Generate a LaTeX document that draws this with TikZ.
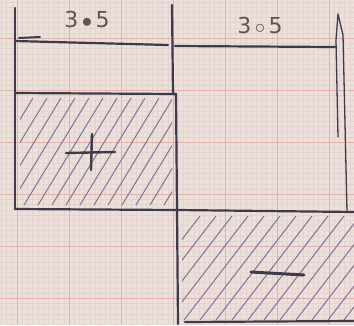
\documentclass[tikz,border=0pt]{standalone}
\usepackage{fontspec}
\setsansfont{DejaVu Sans}
\definecolor{paper}{HTML}{EBE0DC}
\definecolor{majorgrid}{HTML}{E0B2AA}
\definecolor{minorgrid}{HTML}{E5D3CF}
\definecolor{ink}{HTML}{3F3A48}
\definecolor{hatchink}{HTML}{7D7594}
\definecolor{pencil}{HTML}{5E5656}
\begin{document}
\begin{tikzpicture}[x=1pt,y=-1pt,
  inkline/.style={draw=ink,line width=2.2pt,line cap=round,line join=round},
  thinink/.style={draw=ink,line width=1.6pt,line cap=round},
  hatchline/.style={draw=hatchink,line width=1pt,line cap=round},
  label/.style={text=pencil,font=\sffamily\fontsize{22}{22}\selectfont,inner sep=0pt}]
% paper
\fill[paper] (0,0) rectangle (354,325);
\useasboundingbox (0,0) rectangle (354,325);
% minor grid
\foreach \i in {0,...,70} {
  \draw[minorgrid,line width=0.4pt] (\i*5.2+1.4,0) -- (\i*5.2+1.4,325);
  \draw[minorgrid,line width=0.4pt] (0,\i*5.2+1.8) -- (354,\i*5.2+1.8);
}
% major grid
\foreach \x in {17,69,121,173,225,277,329}
  \draw[majorgrid,line width=0.8pt] (\x,0) -- (\x,325);
\foreach \y in {38,90,142,194,246,298}
  \draw[majorgrid,line width=0.8pt] (0,\y) -- (354,\y);
% hatching box 1
\begin{scope}
  \clip (20,98) rectangle (172,205);
  \foreach \s in {-60,-46,...,200}
    \draw[hatchline] (\s,205) -- (\s+65,98);
\end{scope}
% hatching box 2
\begin{scope}
  \clip (182,216) rectangle (354,320);
  \foreach \s in {120,136,...,380}
    \draw[hatchline] (\s,320) -- (\s+80,216);
\end{scope}
% frame
\coordinate (tl) at (15,8);
\coordinate (ml) at (15,93);
\coordinate (bl) at (15,209);
\coordinate (tm) at (172,5);
\coordinate (mm) at (176,94);
\coordinate (bm) at (177,210);
\coordinate (lm) at (178,324);
\draw[inkline] (tl) -- (bl);
\draw[inkline] (tm) -- (173,94) -- (mm) -- (bm) -- (lm);
\draw[inkline] (15,41) -- (168,45);
\draw[inkline] (175,46) -- (335,47);
\draw[thinink,line width=2pt] (19,38) -- (40,37);
\draw[inkline] (ml) -- (mm);
\draw[inkline] (bl) -- (bm) -- (354,212);
\draw[inkline] (185,322) -- (354,321);
% right double line
\draw[draw=ink,line width=1.3pt,line cap=round,line join=round]
  (338,137) -- (336,40) -- (338,14) -- (343,35) -- (347,211);
% plus and minus
\draw[thinink,line width=2.4pt] (66,153) -- (115,152);
\draw[thinink,line width=2.4pt] (92,134) -- (91,170);
\draw[thinink,line width=3pt] (251,272) -- (304,275);
% labels
\node[label] (lab1) at (87,19) {3$\,\bullet\,$5};
\node[label] (lab2) at (260,25) {3$\,\circ\,$5};
\end{tikzpicture}
\end{document}
